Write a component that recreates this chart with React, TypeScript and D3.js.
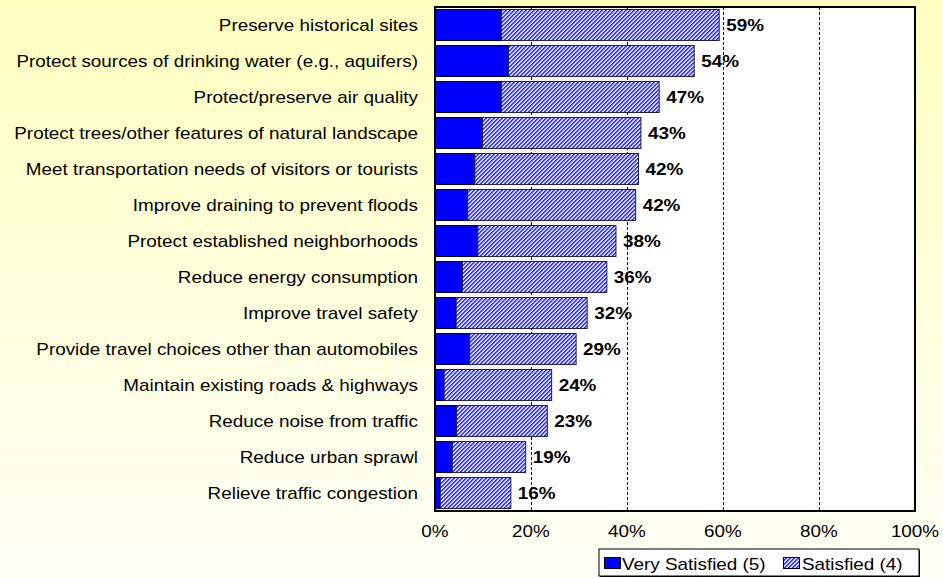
import React from "react";
import * as d3 from "d3";

const categories = [
  "Preserve historical sites",
  "Protect sources of drinking water (e.g., aquifers)",
  "Protect/preserve air quality",
  "Protect trees/other features of natural landscape",
  "Meet transportation needs of visitors or tourists",
  "Improve draining to prevent floods",
  "Protect established neighborhoods",
  "Reduce energy consumption",
  "Improve travel safety",
  "Provide travel choices other than automobiles",
  "Maintain existing roads & highways",
  "Reduce noise from traffic",
  "Reduce urban sprawl",
  "Relieve traffic congestion",
];

const verySatisfied = [13.8, 15.3, 13.8, 9.9, 8.3, 6.8, 8.9, 5.7, 4.4, 7.2, 1.9, 4.5, 3.6, 1.1];
const satisfied = [45.4, 38.7, 32.9, 33.0, 34.1, 35.0, 28.8, 30.1, 27.3, 22.2, 22.4, 18.9, 15.3, 14.7];
const totalLabels = ["59%", "54%", "47%", "43%", "42%", "42%", "38%", "36%", "32%", "29%", "24%", "23%", "19%", "16%"];
const xTicks = [0, 20, 40, 60, 80, 100];
const seriesNames = ["Very Satisfied (5)", "Satisfied (4)"];

const W = 943;
const H = 578;
const plot = { left: 435, right: 915, top: 7, bottom: 511 };
const FONT = "'Liberation Sans', Arial, sans-serif";
const BLUE = "#0000FF";
const SX = 1.18; // horizontal stretch of the text in the reference

function T(props: {
  x: number;
  y: number;
  anchor?: "start" | "middle" | "end";
  bold?: boolean;
  children: React.ReactNode;
}) {
  return (
    <text
      transform={`translate(${props.x},${props.y}) scale(${SX},1)`}
      fontSize={16}
      fontWeight={props.bold ? "bold" : "normal"}
      textAnchor={props.anchor || "start"}
      fill="#000"
    >
      {props.children}
    </text>
  );
}

export default function App() {
  const x = d3.scaleLinear().domain([0, 100]).range([plot.left, plot.right]);
  const y = d3
    .scaleBand<string>()
    .domain(categories)
    .range([plot.top, plot.bottom])
    .paddingInner(0.14)
    .paddingOuter(0.07);
  const bh = y.bandwidth();

  const P = 4;
  const hatchPixels: { x: number; y: number; c: string }[] = [];
  for (let r = 0; r < P; r++) {
    hatchPixels.push({ x: (P - 1 - r + P) % P, y: r, c: "#3030FF" });
    hatchPixels.push({ x: (P - r + P) % P, y: r, c: "#4848FF" });
  }

  return (
    <svg
      width={W}
      height={H}
      style={{ position: "absolute", left: 0, top: 0, display: "block" }}
      fontFamily={FONT}
    >
      <defs>
        <linearGradient id="bg" x1="0" y1="0" x2="0" y2="1">
          <stop offset="0" stopColor="#FFFFC0" />
          <stop offset="0.5" stopColor="#FFFFDC" />
          <stop offset="1" stopColor="#FFFFF6" />
        </linearGradient>
        <pattern id="hatch" width={P} height={P} patternUnits="userSpaceOnUse">
          <rect width={P} height={P} fill="#D8D8FF" />
          {hatchPixels.map((p, i) => (
            <rect key={i} x={p.x} y={p.y} width={1} height={1} fill={p.c} shapeRendering="crispEdges" />
          ))}
        </pattern>
      </defs>
      <rect width={W} height={H} fill="url(#bg)" />

      <rect
        x={plot.left}
        y={plot.top}
        width={plot.right - plot.left}
        height={plot.bottom - plot.top}
        fill="#FFFFFF"
      />
      {xTicks
        .filter((t) => t > 0 && t < 100)
        .map((t) => (
          <line
            key={t}
            x1={Math.round(x(t)) + 0.5}
            x2={Math.round(x(t)) + 0.5}
            y1={plot.top}
            y2={plot.bottom}
            stroke="#000"
            strokeWidth={1}
            strokeDasharray="3,2"
          />
        ))}

      {categories.map((c, i) => {
        const y0 = y(c)!;
        const v = verySatisfied[i];
        const s = satisfied[i];
        return (
          <g key={c}>
            <rect
              x={x(0)}
              y={y0}
              width={x(v) - x(0)}
              height={bh}
              fill={BLUE}
              stroke="#000"
              strokeWidth={1}
            />
            <rect
              x={x(v)}
              y={y0}
              width={x(v + s) - x(v)}
              height={bh}
              fill="url(#hatch)"
              stroke="#222"
              strokeWidth={1}
            />
            <T x={x(v + s) + 7} y={y0 + bh / 2 + 6} bold>
              {totalLabels[i]}
            </T>
            <T x={418} y={y0 + bh / 2 + 6} anchor="end">
              {c}
            </T>
          </g>
        );
      })}

      <rect
        x={plot.left}
        y={plot.top}
        width={plot.right - plot.left}
        height={plot.bottom - plot.top}
        fill="none"
        stroke="#000"
        strokeWidth={2}
      />

      {xTicks.map((t) => (
        <T key={t} x={x(t)} y={537} anchor="middle">
          {t}%
        </T>
      ))}

      <rect x={600} y={550} width={320} height={27} fill="#000" />
      <rect x={599} y={549} width={320} height={27} fill="#FFFFFF" stroke="#000" strokeWidth={1} />
      <rect x={604.5} y={557.5} width={16} height={11} fill={BLUE} stroke="#000" strokeWidth={1} />
      <T x={622} y={569.5}>
        {seriesNames[0]}
      </T>
      <rect x={783.5} y={557.5} width={16} height={11} fill="url(#hatch)" stroke="#000" strokeWidth={1} />
      <T x={802} y={569.5}>
        {seriesNames[1]}
      </T>
    </svg>
  );
}
